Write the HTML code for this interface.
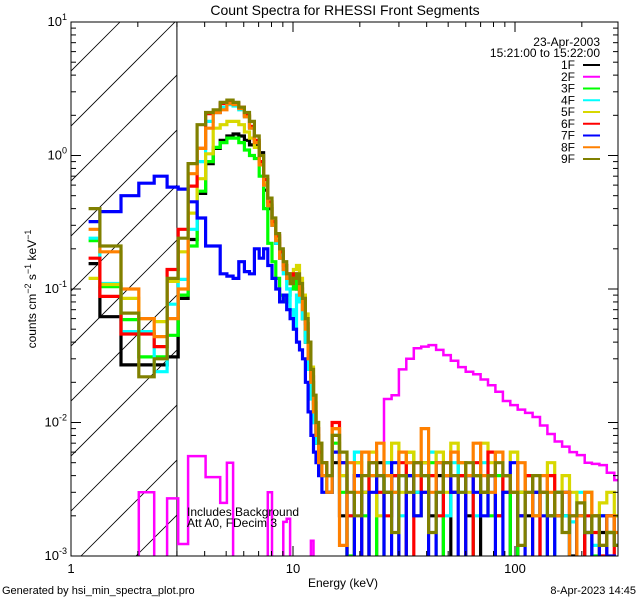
<!DOCTYPE html>
<html><head><meta charset="utf-8"><style>
html,body{margin:0;padding:0;background:#fff;}
svg{display:block;font-family:"Liberation Sans",sans-serif;}
</style></head><body>
<svg id="chart" width="640" height="600" viewBox="0 0 640 600" xmlns="http://www.w3.org/2000/svg">
<rect x="0" y="0" width="640" height="600" fill="#fff"/>
<text x="345" y="15" font-size="14" text-anchor="middle">Count Spectra for RHESSI Front Segments</text>
<text x="343" y="587" font-size="12" text-anchor="middle">Energy (keV)</text>
<text x="2" y="594" font-size="11">Generated by hsi_min_spectra_plot.pro</text>
<text x="636" y="594" font-size="11" text-anchor="end">8-Apr-2023 14:45</text>
<text transform="translate(36,289) rotate(-90)" font-size="12" text-anchor="middle">counts cm<tspan dy="-5" font-size="9">−2</tspan><tspan dy="5"> s</tspan><tspan dy="-5" font-size="9">−1</tspan><tspan dy="5"> keV</tspan><tspan dy="-5" font-size="9">−1</tspan></text>
<g id="hatch"></g>
<g id="series"></g>
<g id="axes"></g>
<text x="187" y="516" font-size="12">Includes Background</text>
<text x="187" y="527" font-size="12">Att A0, FDecim 3</text>
<g id="legend">
<text x="600" y="46" font-size="12" text-anchor="end">23-Apr-2003</text>
<text x="600" y="57" font-size="12" text-anchor="end">15:21:00 to 15:22:00</text>
</g>
</svg>
<script>
const edges=[1.2,1.35,1.68,2.02,2.37,2.71,3.04,3.37,3.70,4.04,4.37,4.70,5.04,5.37,5.70,6.04,6.37,6.70,7.04,7.37,7.70,8.04,8.37,8.70,9.04,9.37,9.70,10.04,10.37,10.70,11.04,11.37,11.70,12.04,12.37,12.70,13.04,13.5,14.2,15,
16.2,17.5,18.9,20.4,22,23.8,25.7,27.8,30,32.4,35,37.8,40.8,44.1,47.6,51.4,55.5,60,64.8,70,75.6,81.6,88.2,95.2,102.8,111,120,129.6,140,151,163,176,190,206,222,240,259,280,291];
const seriesNames=["1F","2F","3F","4F","5F","6F","7F","8F","9F"];
const seriesColors=["#000000","#ff00ff","#00ff00","#00ffff","#d8d800","#ff0000","#0000ff","#ff8000","#808000"];
const s1F=[0.155,0.062,0.027,0.027,0.027,0.031,0.085,0.235,0.52,0.87,1.13,1.3,1.4,1.45,1.4,1.3,1.2,1.2,1.05,0.55,0.4,0.3,0.22,0.17,0.14,0.12,0.11,0.12,0.1,0.08,0.06,0.04,0.025,0.016,0.01,0.007,0.005,0.004,0.003,
0.005,0.002,0.0008,0.004,0.003,0.0007,0.005,0.003,0.004,0.0009,0.004,0.003,0.005,0.002,0.004,0.0008,0.003,0.004,0.002,0.0009,0.003,0.004,0.002,0.003,0.0008,0.003,0.002,0.003,0.0009,0.002,0.003,0.002,0.001,0.002,0.0009,0.002,0.0015,0.002,0.0012];
const s2F=[0.0005,0.0005,0.0005,0.003,0.0008,0.0027,0.00123,0.0056,0.0056,0.0039,0.0039,0.0025,0.005,0.0005,0.0005,0.0005,0.0005,0.0005,0.0005,0.0005,0.003,0.0005,0.0005,0.0005,0.0018,0.0019,0.0005,0.0005,0.0005,0.0005,0.0005,0.0005,0.0005,0.0013,0.0005,0.0005,0.0008,0.0008,0.0008,
0.0005,0.0005,0.0005,0.0005,0.0005,0.0005,0.002,0.015,0.016,0.025,0.03,0.036,0.037,0.038,0.035,0.032,0.029,0.026,0.024,0.023,0.021,0.019,0.017,0.0145,0.0135,0.0125,0.0118,0.011,0.0095,0.0082,0.0072,0.0066,0.006,0.0057,0.005,0.0049,0.0048,0.0042,0.0037];
const s3F=[0.23,0.104,0.059,0.031,0.031,0.045,0.09,0.21,0.54,0.9,1.15,1.25,1.35,1.35,1.25,1.1,1.0,0.95,0.7,0.4,0.22,0.16,0.12,0.09,0.08,0.09,0.1,0.12,0.1,0.08,0.06,0.045,0.03,0.02,0.012,0.008,0.005,0.004,0.003,
0.007,0.003,0.001,0.005,0.002,0.004,0.0008,0.005,0.003,0.004,0.006,0.002,0.004,0.005,0.0009,0.004,0.003,0.005,0.0008,0.004,0.003,0.002,0.004,0.003,0.0009,0.003,0.004,0.002,0.003,0.0008,0.003,0.002,0.0009,0.002,0.003,0.001,0.002,0.0015,0.002];
const s4F=[0.24,0.11,0.048,0.048,0.024,0.077,0.118,0.28,0.9,1.8,2.1,2.3,2.4,2.35,2.2,1.95,1.6,1.25,0.85,0.6,0.42,0.3,0.22,0.17,0.13,0.1,0.07,0.05,0.09,0.08,0.06,0.04,0.025,0.015,0.01,0.007,0.005,0.004,0.003,
0.008,0.004,0.002,0.006,0.0009,0.004,0.003,0.005,0.004,0.002,0.005,0.003,0.004,0.006,0.003,0.002,0.005,0.003,0.004,0.002,0.005,0.003,0.002,0.004,0.003,0.002,0.004,0.002,0.003,0.0009,0.003,0.002,0.0018,0.003,0.002,0.0012,0.002,0.0015,0.0012];
const s5F=[0.12,0.108,0.085,0.06,0.057,0.114,0.19,0.37,0.67,1.03,1.6,1.7,1.8,1.8,1.7,1.5,1.35,1.15,0.85,0.62,0.43,0.31,0.24,0.19,0.15,0.13,0.12,0.14,0.15,0.12,0.09,0.065,0.04,0.026,0.016,0.01,0.007,0.005,0.004,
0.009,0.004,0.0009,0.005,0.003,0.006,0.002,0.004,0.007,0.003,0.006,0.002,0.005,0.004,0.006,0.003,0.007,0.005,0.003,0.004,0.007,0.005,0.002,0.004,0.006,0.003,0.004,0.002,0.003,0.005,0.002,0.004,0.003,0.002,0.003,0.002,0.0025,0.003,0.002];
const s6F=[0.17,0.088,0.046,0.046,0.037,0.14,0.28,0.59,1.13,2.06,2.1,2.45,2.5,2.45,2.3,2.0,1.65,1.3,0.9,0.66,0.45,0.32,0.25,0.19,0.15,0.13,0.12,0.13,0.12,0.1,0.08,0.055,0.035,0.022,0.014,0.009,0.006,0.005,0.004,
0.01,0.005,0.002,0.004,0.0008,0.005,0.003,0.002,0.004,0.005,0.0009,0.005,0.003,0.004,0.002,0.005,0.003,0.004,0.0008,0.005,0.003,0.006,0.002,0.004,0.003,0.002,0.004,0.0009,0.003,0.004,0.002,0.003,0.002,0.0009,0.002,0.0015,0.001,0.002,0.0009];
const s7F=[0.32,0.38,0.5,0.62,0.7,0.58,0.56,0.45,0.34,0.21,0.21,0.13,0.125,0.12,0.16,0.135,0.13,0.2,0.17,0.2,0.15,0.12,0.1,0.08,0.09,0.07,0.06,0.05,0.04,0.035,0.03,0.02,0.012,0.008,0.006,0.005,0.004,0.003,0.003,
0.006,0.005,0.0007,0.004,0.0006,0.003,0.004,0.0008,0.005,0.0007,0.004,0.002,0.003,0.0009,0.005,0.004,0.003,0.0008,0.004,0.003,0.002,0.004,0.0007,0.003,0.005,0.002,0.0008,0.003,0.002,0.0009,0.002,0.003,0.0008,0.002,0.0015,0.0008,0.002,0.001,0.0009];
const s8F=[0.28,0.19,0.1,0.06,0.044,0.06,0.1,0.73,1.13,1.6,2.1,2.2,2.45,2.4,2.25,1.95,1.6,1.25,0.85,0.6,0.42,0.3,0.23,0.17,0.14,0.12,0.11,0.12,0.12,0.09,0.07,0.05,0.03,0.02,0.012,0.008,0.005,0.004,0.003,
0.009,0.0012,0.005,0.003,0.006,0.004,0.007,0.004,0.003,0.006,0.005,0.004,0.009,0.003,0.005,0.004,0.006,0.005,0.004,0.007,0.004,0.003,0.006,0.004,0.003,0.005,0.003,0.002,0.004,0.003,0.002,0.003,0.0009,0.002,0.003,0.002,0.0012,0.002,0.0015];
const s9F=[0.4,0.21,0.066,0.022,0.03,0.12,0.24,0.87,1.7,2.1,2.2,2.5,2.6,2.5,2.3,2.1,1.8,1.4,1.0,0.7,0.48,0.34,0.26,0.2,0.16,0.13,0.11,0.12,0.13,0.11,0.085,0.06,0.04,0.025,0.016,0.01,0.007,0.005,0.004,
0.008,0.006,0.003,0.002,0.004,0.005,0.004,0.003,0.0015,0.004,0.003,0.005,0.004,0.0015,0.003,0.005,0.004,0.003,0.005,0.004,0.003,0.004,0.005,0.004,0.003,0.0012,0.003,0.004,0.003,0.002,0.003,0.0015,0.002,0.0025,0.0015,0.002,0.0012,0.0015,0.0012];
const seriesValues=[s1F,s2F,s3F,s4F,s5F,s6F,s7F,s8F,s9F];
const xTickLabels=["1","10","100"];
const yTickExps=[-3,-2,-1,0,1];

const NS="http://www.w3.org/2000/svg";
const L=71,R=618,T=22,B=556;
const XMIN=1,XMAX=Math.pow(10,(R-L)/222);
const YMIN=-3,YMAX=1;
function xs(e){return L+(Math.log10(e)-Math.log10(XMIN))/(Math.log10(XMAX)-Math.log10(XMIN))*(R-L);}
function ys(v){const lv=Math.max(Math.log10(v),YMIN-0.3);return B-(lv-YMIN)/(YMAX-YMIN)*(B-T);}
function mk(tag,attrs,parent){const el=document.createElementNS(NS,tag);for(const k in attrs)el.setAttribute(k,attrs[k]);parent.appendChild(el);return el;}

const svg=document.getElementById('chart');
const defs=mk('defs',{},svg);
const cp=mk('clipPath',{id:'plotclip'},defs);
mk('rect',{x:L,y:T,width:R-L,height:B-T},cp);
const cp2=mk('clipPath',{id:'hatchclip'},defs);
mk('rect',{x:L,y:T,width:xs(3)-L,height:B-T},cp2);

// hatch
const hatch=document.getElementById('hatch');
const hg=mk('g',{'clip-path':'url(#hatchclip)'},hatch);
for(let k=-12;k<14;k++){
  const x0=L+k*55;
  const ln=mk('line',{x1:x0,y1:B+10,x2:x0+600,y2:B+10-600,stroke:'#000','stroke-width':0.8},hg);
  
  
}
const vline=mk('line',{x1:xs(3),y1:T,x2:xs(3),y2:B,stroke:'#000','stroke-width':1},hatch);



// series
const sg=document.getElementById('series');
sg.setAttribute('clip-path','url(#plotclip)');
seriesValues.forEach((vals,si)=>{
  let d='';
  const n=Math.min(vals.length,edges.length-1);
  for(let i=0;i<n;i++){
    const x0=xs(edges[i]),x1=xs(edges[i+1]),y=ys(vals[i]);
    d+=(i===0?'M':'L')+x0.toFixed(1)+','+y.toFixed(1)+'L'+x1.toFixed(1)+','+y.toFixed(1);
  }
  const p=mk('path',{d:d,fill:'none',stroke:seriesColors[si],'stroke-width':si===1?2.5:3.2,'stroke-linejoin':'miter'},sg);
  
  
});

// axes
const ax=document.getElementById('axes');
const frame=mk('rect',{x:L,y:T,width:R-L,height:B-T,fill:'none',stroke:'#000','stroke-width':1},ax);


for(let dec=0;dec<3;dec++){
  for(let m=1;m<10;m++){
    const e=Math.pow(10,dec)*m; if(e>XMAX) continue;
    const x=xs(e); const len=m===1?10:5;
    const t1=mk('line',{x1:x,y1:B,x2:x,y2:B-len,stroke:'#000'},ax);
    
    
    const t2=mk('line',{x1:x,y1:T,x2:x,y2:T+len,stroke:'#000'},ax);
    
    
  }
}
xTickLabels.forEach((lab,i)=>{
  const t=mk('text',{x:xs(Math.pow(10,i)),y:B+17,'font-size':13,'text-anchor':'middle'},ax);
  t.textContent=lab;
  
  
});
for(let ex=YMIN;ex<YMAX;ex++){
  for(let m=1;m<10;m++){
    const y=ys(Math.pow(10,ex)*m); const len=m===1?10:5;
    const t1=mk('line',{x1:L,y1:y,x2:L+len,y2:y,stroke:'#000'},ax);
    
    
    const t2=mk('line',{x1:R,y1:y,x2:R-len,y2:y,stroke:'#000'},ax);
    
    
  }
}
yTickExps.forEach(ex=>{
  const y=ys(Math.pow(10,ex));
  const t=mk('text',{x:L-4,y:y+4,'font-size':13,'text-anchor':'end'},ax);
  t.innerHTML='10<tspan dy="-6" font-size="9">'+ex+'</tspan>';
  
  
});

// legend
const lg=document.getElementById('legend');
seriesNames.forEach((nm,i)=>{
  const y=65+i*11.75;
  const t=mk('text',{x:575,y:y+4,'font-size':12,'text-anchor':'end'},lg);
  t.textContent=nm;
  
  
  const l=mk('line',{x1:583,y1:y,x2:600,y2:y,stroke:seriesColors[i],'stroke-width':2},lg);
  
  
});
</script>
</body></html>
